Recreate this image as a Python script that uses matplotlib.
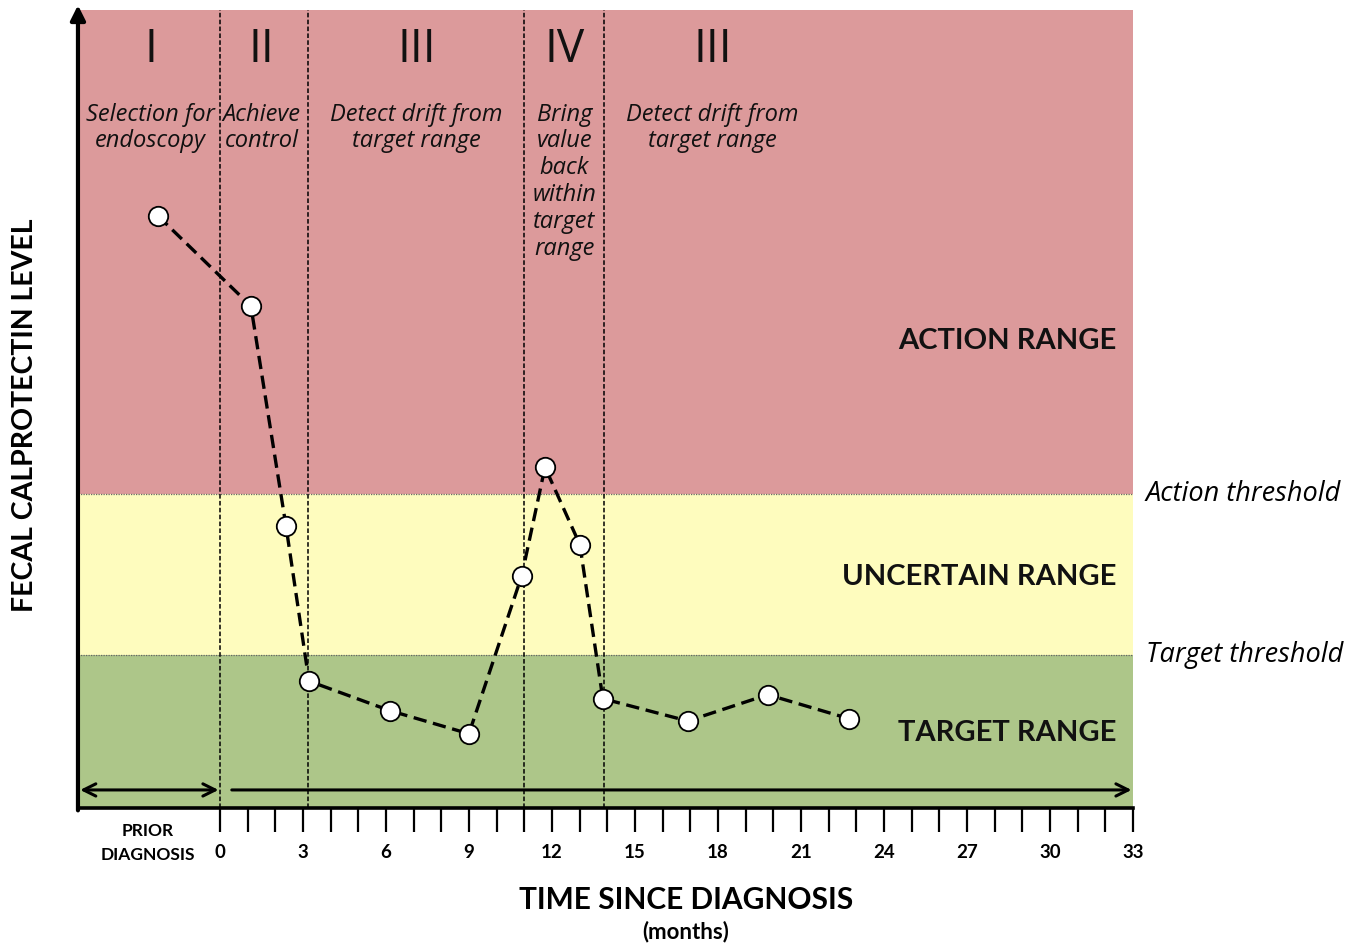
import matplotlib
matplotlib.use("Agg")
import matplotlib.pyplot as plt

# ---- data ----
months = [-2.24, 1.12, 2.39, 3.22, 6.14, 9.0, 10.91, 11.75, 13.01, 13.84, 16.91, 19.8, 22.73]
level = [74.2, 62.9, 35.3, 15.9, 12.2, 9.3, 29.1, 42.7, 33.0, 13.7, 10.9, 14.2, 11.2]

phase_bounds = [0, 3.2, 11.0, 13.9]
phase_numerals = ["I", "II", "III", "IV", "III"]
phase_centers = [-2.5, 1.5, 7.1, 12.45, 17.8]
phase_texts = ["Selection for\nendoscopy", "Achieve\ncontrol", "Detect drift from\ntarget range",
               "Bring\nvalue\nback\nwithin\ntarget\nrange", "Detect drift from\ntarget range"]

target_threshold = 19.2
action_threshold = 39.3
range_labels = ["ACTION RANGE", "UNCERTAIN RANGE", "TARGET RANGE"]
range_label_y = [58.5, 29.0, 9.4]

tick_months = list(range(0, 34))
tick_labels = [str(m) if m % 3 == 0 else "" for m in tick_months]

XMIN, XMAX = -5.13, 33.0
YMIN, YMAX = 0, 100

# ---- figure ----
fig = plt.figure(figsize=(13.63, 9.48), dpi=100)
ax = fig.add_axes([0.0572, 0.1477, 0.7740, 0.8418])
ax.set_xlim(XMIN, XMAX)
ax.set_ylim(YMIN, YMAX)

red = "#DC9A9B"
yellow = "#FEFCBE"
green = "#ADC689"
ax.axhspan(action_threshold, YMAX, color=red, lw=0, zorder=0)
ax.axhspan(target_threshold, action_threshold, color=yellow, lw=0, zorder=0)
ax.axhspan(YMIN, target_threshold, color=green, lw=0, zorder=0)
for t in (target_threshold, action_threshold):
    ax.axhline(t, color="#666666", lw=0.9, ls=(0, (1, 1)), zorder=1)

for b in phase_bounds:
    ax.axvline(b, color="black", lw=1.1, ls=(0, (3, 1.5)), zorder=2)

# data line
ax.plot(months, level, color="black", lw=2.4, ls=(0, (4, 2)), zorder=3)
ax.plot(months, level, ls="none", marker="o", ms=14, mfc="white", mec="black", mew=1.3, zorder=4)

# phase labels
for cx, num, txt in zip(phase_centers, phase_numerals, phase_texts):
    ax.text(cx, 95.0, num, ha="center", va="center", fontsize=33, family="Open Sans",
            color="#111111", zorder=5)
    ax.text(cx, 88.4, txt, ha="center", va="top", fontsize=17, family="Open Sans",
            style="italic", linespacing=1.165, color="#111111", zorder=5)

# range labels
for lab, yy in zip(range_labels, range_label_y):
    ax.text(32.4, yy, lab, ha="right", va="center", fontsize=21, family="Lato",
            weight="bold", color="#111111", zorder=5)

# threshold labels
ax.text(1.012, action_threshold, "Action threshold", transform=ax.get_yaxis_transform(),
        ha="left", va="center", fontsize=19.5, family="Open Sans", style="italic", clip_on=False)
ax.text(1.012, target_threshold, "Target threshold", transform=ax.get_yaxis_transform(),
        ha="left", va="center", fontsize=19.5, family="Open Sans", style="italic", clip_on=False)

# arrows along bottom
ax.annotate("", xy=(-5.05, 2.26), xytext=(-0.05, 2.26),
            arrowprops=dict(arrowstyle="<->", color="black", lw=2.2, mutation_scale=22,
                            shrinkA=0, shrinkB=0), zorder=5)
ax.annotate("", xy=(32.95, 2.26), xytext=(0.43, 2.26),
            arrowprops=dict(arrowstyle="->", color="black", lw=2.2, mutation_scale=22,
                            shrinkA=0, shrinkB=0), zorder=5)

# y axis arrow
ax.annotate("", xy=(XMIN, 100.6), xytext=(XMIN, -0.3), xycoords="data",
            arrowprops=dict(arrowstyle="-|>", color="black", lw=3, mutation_scale=22,
                            shrinkA=0, shrinkB=0), annotation_clip=False, zorder=6)

# spines & ticks
for s in ("top", "right", "left"):
    ax.spines[s].set_visible(False)
ax.spines["bottom"].set_linewidth(2.6)
ax.spines["bottom"].set_bounds(XMIN, XMAX)
ax.set_yticks([])
ax.set_xticks(tick_months)
ax.set_xticklabels(tick_labels, fontsize=13.5, family="Lato", weight="bold")
ax.tick_params(axis="x", direction="out", length=17, width=1.6, pad=9)

ax.text(-2.6, -1.9, "PRIOR\nDIAGNOSIS", ha="center", va="top", fontsize=12.5, family="Lato",
        weight="bold", linespacing=1.6, clip_on=False)

fig.text(686 / 1363, 1 - 900 / 948, "TIME SINCE DIAGNOSIS", ha="center", va="center",
         fontsize=21.5, family="Lato", weight="bold")
fig.text(686 / 1363, 1 - 932 / 948, "(months)", ha="center", va="center",
         fontsize=16, family="Lato", weight="bold")
fig.text(25 / 1363, 1 - 415 / 948, "FECAL CALPROTECTIN LEVEL", ha="center", va="center",
         rotation=90, fontsize=20.5, family="Lato", weight="bold")

fig.savefig("out.png", dpi=100, facecolor="white")
